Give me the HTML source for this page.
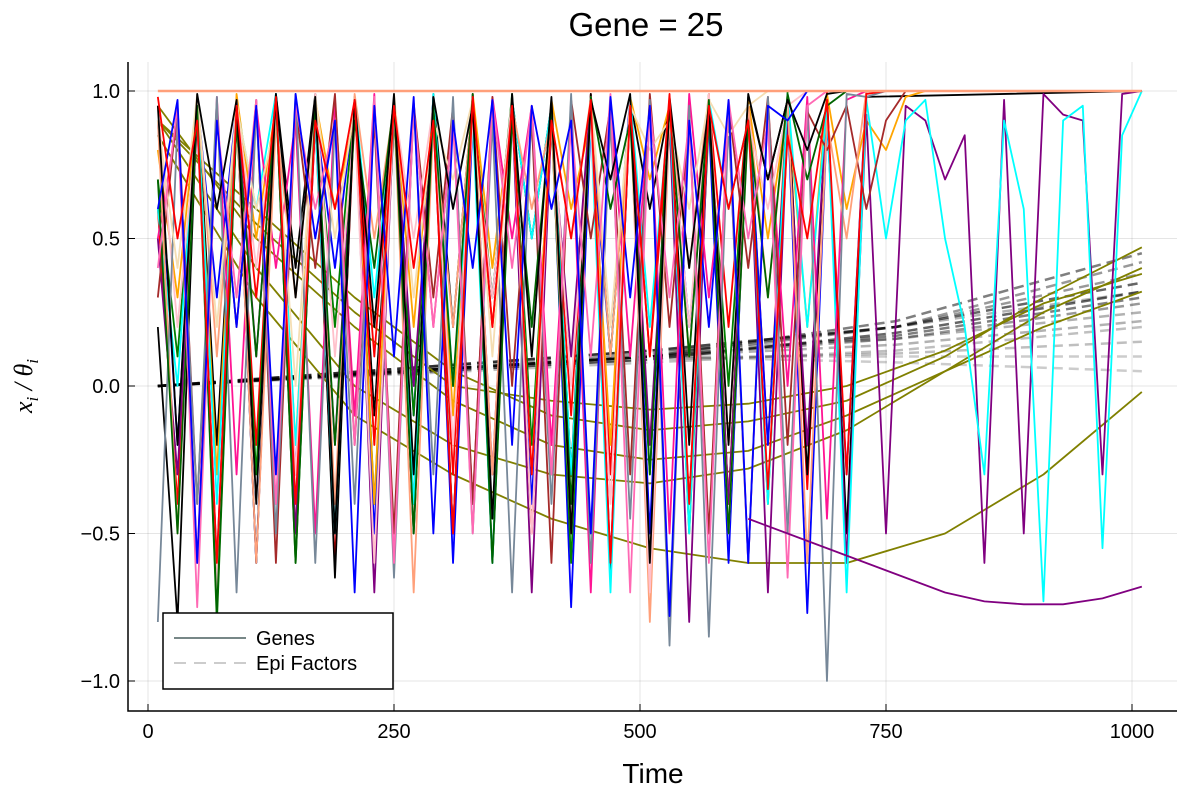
<!DOCTYPE html>
<html><head><meta charset="utf-8"><style>
body{margin:0;background:#fff;}
svg{font-family:"Liberation Sans","DejaVu Sans",sans-serif;}
</style></head><body>
<svg id="chart" width="1200" height="800" viewBox="0 0 1200 800" xmlns="http://www.w3.org/2000/svg">
<rect width="1200" height="800" fill="#fff"/>
<text x="646" y="36" font-size="33" text-anchor="middle">Gene = 25</text>
<g id="grid"></g>
<g id="series"></g>
<g id="axes"></g>
<text x="653" y="783" font-size="28" text-anchor="middle">Time</text>
<text transform="translate(32,386) rotate(-90)" font-size="26" font-style="italic" font-family="Liberation Serif,serif" text-anchor="middle">x<tspan font-size="17" dy="6">i</tspan><tspan dy="-6"> / θ</tspan><tspan font-size="17" dy="6">i</tspan></text>
<g>
<rect x="163" y="613" width="230" height="76" fill="#fff" stroke="#000" stroke-width="1.5"/>
<line x1="174" y1="638" x2="246" y2="638" stroke="#778787" stroke-width="2"/>
<text x="256" y="645" font-size="20">Genes</text>
<line x1="174" y1="663" x2="246" y2="663" stroke="#ccc" stroke-width="2" stroke-dasharray="12,8"/>
<text x="256" y="670" font-size="20">Epi Factors</text>
</g>
</svg>
<script>
const xTicks=[0,250,500,750,1000];
const yTicks=[-1,-0.5,0,0.5,1];
const yTickLabels=["−1.0","−0.5","0.0","0.5","1.0"];
const geneColors=["red","blue","green","black","orange","purple","cyan","deeppink","brown","lightsalmon","pink","#778899","wheat","darkgreen","hotpink","black","blue","red"];
// gene values at t = 10, 30, 50, ... (step 20); after end stays at 1.0
const g0=[0.6,-0.4,0.95,-0.7,0.9,-0.2,0.98,-0.5,0.9,-0.6,0.95,0.1,0.97,-0.4,0.9,-0.3,0.98,0.2,0.95,-0.5,0.9,-0.1,0.99,-0.3,0.95,0.1,0.9,-0.4,0.97,0.2,0.96,-0.2,0.99,-0.35,1];
const g1=[0.9,-0.2,0.97,0.3,0.95,-0.6,0.99,-0.3,0.92,0.4,0.97,-0.5,0.95,-0.1,0.98,-0.6,0.9,0.3,0.97,-0.4,0.95,-0.75,0.9,0.1,0.98,-0.5,0.95,0.2,0.9,-0.6,0.97,-0.2,0.95,-0.77,0.9,-0.3,1];
const g2=[0.7,0.1,0.95,-0.8,0.9,-0.3,0.98,-0.6,0.95,0.2,0.97,-0.4,0.9,-0.1,0.96,-0.5,0.95,0.3,0.99,-0.2,0.9,-0.6,0.97,0.1,0.95,-0.3,0.98,-0.5,0.9,0.0,0.97,-0.4,1];
const g3=[0.2,-0.8,0.98,-0.2,0.97,-0.6,0.99,0.4,0.99,-0.65,0.98,-0.1,0.95,-0.5,0.99,0.2,0.98,-0.6,0.97,0.5,0.95,-0.3,0.99,-0.65,0.97,0.6,0.95,-0.2,0.99,-0.4,0.98,0.7,0.97,-0.3,0.99,-0.5,0.98];
const g4=[0.8,0.3,0.95,-0.3,0.99,0.5,0.95,-0.2,0.97,0.6,0.92,-0.4,0.98,0.2,0.95,-0.1,0.99,0.4,0.94,-0.3,0.97,0.6,0.9,-0.2,0.98,0.7,0.95,0.1,0.99,-0.4,0.97,0.5,0.95,0.2,0.99,0.6,0.9,0.8,0.98,1];
const g5=[0.5,-0.3,0.9,-0.6,0.95,0.1,0.98,-0.5,0.9,-0.2,0.97,-0.7,0.95,0.0,0.9,-0.5,0.99,-0.3,0.95,-0.7,0.9,0.1,0.98,-0.6,0.95,-0.2,0.9,-0.8,0.97,-0.4,0.95,-0.7,0.9,-0.2,0.97,-0.6,0.92,-0.5,0.95,0.9,0.7,0.85,-0.6,0.97,-0.5,0.99,0.92,0.9,-0.3,0.99,1];
const g6=[0.6,0.0,0.97,-0.4,0.95,0.6,0.99,-0.2,0.9,-0.5,0.98,0.3,0.95,-0.4,0.99,0.0,0.9,-0.6,0.97,0.5,0.95,-0.3,0.9,-0.7,0.98,0.2,0.95,-0.5,0.97,0.6,0.9,-0.4,0.99,0.2,0.95,-0.7,0.97,0.5,0.9,0.97,0.5,0.2,-0.3,0.9,0.6,-0.73,0.9,0.95,-0.55,0.85,1];
const g7=[0.5,0.9,-0.6,0.98,-0.3,0.95,0.4,0.9,-0.5,0.97,-0.1,0.99,-0.6,0.95,0.2,0.9,-0.4,0.98,0.5,0.95,-0.2,0.9,-0.7,0.97,0.1,0.95,-0.5,0.99,0.3,0.9,-0.6,0.95,0.0,0.98,-0.45,0.97,1];
const g8=[0.3,0.95,-0.4,0.9,0.2,0.97,-0.6,0.95,0.4,0.99,-0.2,0.9,-0.5,0.96,0.3,0.95,-0.4,0.98,0.0,0.9,-0.6,0.97,0.5,0.95,-0.3,0.99,0.2,0.9,-0.5,0.95,0.4,0.98,-0.2,0.93,0.8,0.95,0.6,0.9,1];
const g9=[0.9,-0.5,0.98,0.1,0.95,-0.6,0.9,0.3,0.97,-0.4,0.99,0.5,0.95,-0.7,0.9,0.2,0.98,-0.3,0.95,0.6,0.9,-0.5,0.97,0.1,0.95,-0.8,0.9,0.4,0.99,-0.2,0.95,0.3,0.97,-0.6,0.9,0.5,1];
const g10=[0.95,0.2,0.9,-0.7,0.97,0.4,0.95,-0.3,0.99,0.1,0.9,-0.6,0.96,0.5,0.95,-0.2,0.9,0.3,0.98,-0.5,0.95,0.0,0.9,-0.4,0.97,-0.7,0.95,0.2,0.99,-0.5,0.9,0.6,0.95,1];
const g11=[-0.8,0.9,-0.4,0.98,-0.7,0.95,-0.5,0.99,-0.6,0.9,-0.4,0.97,-0.65,0.95,-0.3,0.98,-0.5,0.9,-0.7,0.95,-0.4,0.99,-0.6,0.9,-0.45,0.97,-0.88,0.95,-0.85,0.9,-0.6,0.98,-0.5,0.95,-1.0,0.99,0.98,1];
const g12=[0.9,0.4,0.99,0.2,0.95,0.6,0.9,0.0,0.98,0.5,0.95,-0.2,0.99,0.3,0.9,0.7,0.97,0.1,0.95,-0.3,0.9,0.5,0.98,0.2,0.95,0.8,0.9,0.6,0.97,0.85,0.95,1];
const g13=[0.7,-0.5,0.95,-0.77,0.9,0.1,0.98,-0.6,0.95,-0.2,0.9,0.4,0.97,-0.5,0.95,0.0,0.99,-0.6,0.9,0.2,0.95,-0.4,0.98,0.6,0.9,-0.3,0.95,0.1,0.97,-0.5,0.9,0.3,0.99,0.7,0.95,1];
const g14=[0.4,0.95,-0.75,0.9,0.3,0.97,-0.4,0.95,0.6,0.9,-0.2,0.98,-0.6,0.95,0.2,0.9,-0.5,0.97,0.4,0.95,-0.3,0.9,0.1,0.99,-0.7,0.95,0.3,0.9,-0.6,0.97,0.5,0.9,-0.65,0.95,1];
const g15=[0.95,-0.2,0.99,0.6,0.97,-0.4,0.99,0.3,0.98,-0.5,0.97,0.2,0.99,-0.3,0.98,0.6,0.95,-0.45,0.99,0.1,0.98,-0.5,0.97,0.7,0.99,-0.6,0.98,0.4,0.95,-0.2,0.99,0.7,0.97,0.8,0.99,1];
const g16=[0.6,0.97,-0.6,0.9,0.2,0.95,-0.3,0.99,0.5,0.9,-0.7,0.95,0.1,0.98,-0.5,0.9,0.4,0.97,-0.2,0.95,0.6,0.9,-0.5,0.98,0.3,0.95,-0.78,0.9,0.2,0.97,-0.6,0.95,0.9,1];
const g17=[0.98,0.5,0.9,-0.6,0.95,0.3,0.98,-0.4,0.9,0.6,0.97,-0.2,0.95,0.4,0.9,-0.5,0.98,0.2,0.95,-0.3,0.9,0.5,0.97,-0.6,0.95,0.1,0.99,-0.4,0.95,0.6,0.9,-0.35,0.85,0.5,0.97,-0.3,0.99,1];
const genes=[g0,g1,g2,g3,g4,g5,g6,g7,g8,g9,g10,g11,g12,g13,g14,g15,g16,g17];
// olive smooth curves: value at t = 10,110,...,1010 (step 100)
const o0=[0.9,0.6,0.3,0.05,-0.1,-0.15,-0.12,-0.05,0.1,0.3,0.47];
const o1=[0.95,0.5,0.2,-0.05,-0.2,-0.25,-0.22,-0.1,0.05,0.25,0.4];
const o2=[0.9,0.4,0.0,-0.2,-0.3,-0.33,-0.28,-0.15,0.05,0.2,0.32];
const o3=[0.85,0.3,-0.1,-0.3,-0.45,-0.55,-0.6,-0.6,-0.5,-0.3,-0.02];
const o4=[0.9,0.55,0.25,0.0,-0.05,-0.08,-0.06,0.0,0.12,0.28,0.38];
const olives=[o0,o1,o2,o3,o4];
const purpleTail=[-0.45,-0.5,-0.55,-0.6,-0.65,-0.7,-0.73,-0.74,-0.74,-0.72,-0.68];
const purpleTailT=[610,650,690,730,770,810,850,890,930,970,1010];
// epi factors dashed: values at t=10, 510, 760, 1010
const epiT=[10,510,760,1010];
const epi=[[0,0.1,0.22,0.45],[0,0.1,0.2,0.42],[0,0.12,0.2,0.35],[0,0.1,0.17,0.3],[0,0.12,0.2,0.32],[0,0.1,0.16,0.28],[0,0.08,0.12,0.2],[0,0.09,0.11,0.15],[0,0.1,0.1,0.1],[0,0.1,0.08,0.05],[0,0.12,0.16,0.25],[0,0.09,0.18,0.32],[0,0.1,0.14,0.22],[0,0.11,0.2,0.38]];
const epiAlpha=[0.5,0.4,0.6,0.5,0.3,0.4,0.25,0.25,0.2,0.2,0.3,0.6,0.3,0.4];

const X=t=>148+t*0.984, Y=v=>386-v*295;
const NS="http://www.w3.org/2000/svg";
const gridG=document.getElementById('grid'),axesG=document.getElementById('axes'),serG=document.getElementById('series');
function mk(tag,attrs,parent){const e=document.createElementNS(NS,tag);for(const k in attrs)e.setAttribute(k,attrs[k]);parent.appendChild(e);return e;}
xTicks.forEach(t=>{const l=mk('line',{x1:X(t),x2:X(t),y1:62,y2:711,stroke:'#000','stroke-opacity':0.1},gridG);


const k=mk('line',{x1:X(t),x2:X(t),y1:711,y2:704,stroke:'#000'},axesG);


const tx=mk('text',{x:X(t),y:738,'font-size':20,'text-anchor':'middle'},axesG);tx.textContent=t;

});
yTicks.forEach((v,i)=>{const l=mk('line',{x1:128,x2:1177,y1:Y(v),y2:Y(v),stroke:'#000','stroke-opacity':0.1},gridG);


const k=mk('line',{x1:128,x2:135,y1:Y(v),y2:Y(v),stroke:'#000'},axesG);


const tx=mk('text',{x:120,y:Y(v)+7,'font-size':20,'text-anchor':'end'},axesG);tx.textContent=yTickLabels[i];

});
const axPath=mk('path',{d:'M128,62 V711 H1177',fill:'none',stroke:'#000','stroke-width':1.5},axesG);


epi.forEach((s,i)=>{const pts=s.map((v,k)=>X(epiT[k])+','+Y(v));
const p=mk('polyline',{points:pts.join(' '),fill:'none',stroke:'#000','stroke-opacity':epiAlpha[i],'stroke-width':2.5,'stroke-dasharray':'10,6'},serG);

});
olives.forEach(s=>{const pts=s.map((v,k)=>X(10+100*k)+','+Y(v));
const p=mk('polyline',{points:pts.join(' '),fill:'none',stroke:'#808000','stroke-width':1.8,'stroke-linejoin':'round'},serG);

});
genes.forEach((s,i)=>{const pts=s.map((v,k)=>X(10+20*k)+','+Y(v));pts.push(X(1010)+','+Y(1));
const p=mk('polyline',{points:pts.join(' '),fill:'none',stroke:geneColors[i],'stroke-width':1.8,'stroke-linejoin':'round'},serG);

});
const purpleLine=mk('polyline',{points:purpleTailT.map((t,k)=>X(t)+','+Y(purpleTail[k])).join(' '),fill:'none',stroke:'purple','stroke-width':1.8},serG);


const satLine=mk('line',{x1:X(10),x2:X(1010),y1:Y(1),y2:Y(1),stroke:'lightsalmon','stroke-width':2.5},serG);


</script>
</body></html>
